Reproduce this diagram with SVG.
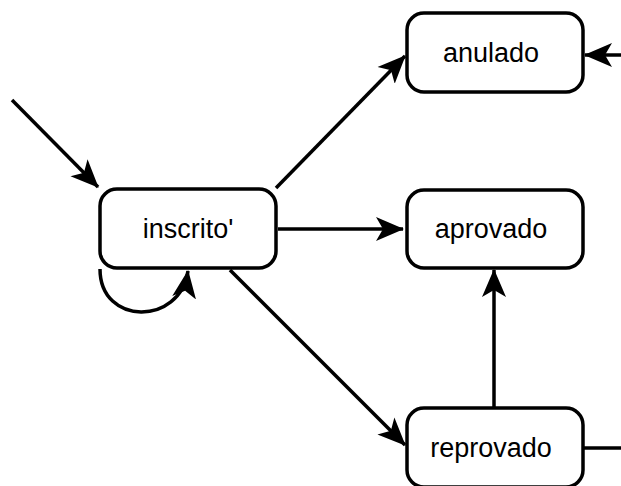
<svg xmlns="http://www.w3.org/2000/svg" width="621" height="486" viewBox="0 0 621 486">
<style>
.node rect{fill:#fff;stroke:#000;stroke-width:3.5}
.node text{font-family:"Liberation Sans",Arial,sans-serif;font-size:27px;fill:#000;text-anchor:middle}
.edge{fill:none;stroke:#000;stroke-width:3.5}
</style>
<defs>
<marker id="arr" markerUnits="userSpaceOnUse" markerWidth="30" markerHeight="26" viewBox="0 0 30 26" refX="27" refY="13" orient="auto">
<path d="M0,1 L28,13 L0,25 L7,13 Z" fill="#000"/>
</marker>
</defs>
<rect width="621" height="486" fill="#fff"/>
<g id="connectors">
<line class="edge" x1="12" y1="100" x2="98" y2="187" marker-end="url(#arr)"/>
<line class="edge" x1="276" y1="188" x2="405" y2="56" marker-end="url(#arr)"/>
<line class="edge" x1="278" y1="229" x2="403" y2="229" marker-end="url(#arr)"/>
<line class="edge" x1="230" y1="270" x2="405" y2="445" marker-end="url(#arr)"/>
<line class="edge" x1="494" y1="408" x2="494" y2="270" marker-end="url(#arr)"/>
<line class="edge" x1="621" y1="55" x2="585" y2="55" marker-end="url(#arr)"/>
<line class="edge" x1="584" y1="448" x2="621" y2="448"/>
<path class="edge" d="M100,269 C100,326 180,326 188,271" marker-end="url(#arr)"/>
</g>
<g id="inscrito" class="node">
<rect x="100" y="189" width="176" height="79" rx="17"/>
<text x="188" y="238">inscrito'</text>
</g>
<g id="anulado" class="node">
<rect x="407" y="13" width="176" height="79" rx="17"/>
<text x="491" y="62">anulado</text>
</g>
<g id="aprovado" class="node">
<rect x="407" y="190" width="176" height="78" rx="17"/>
<text x="491" y="238">aprovado</text>
</g>
<g id="reprovado" class="node">
<rect x="407" y="408" width="176" height="79" rx="17"/>
<text x="491" y="457">reprovado</text>
</g>
</svg>
